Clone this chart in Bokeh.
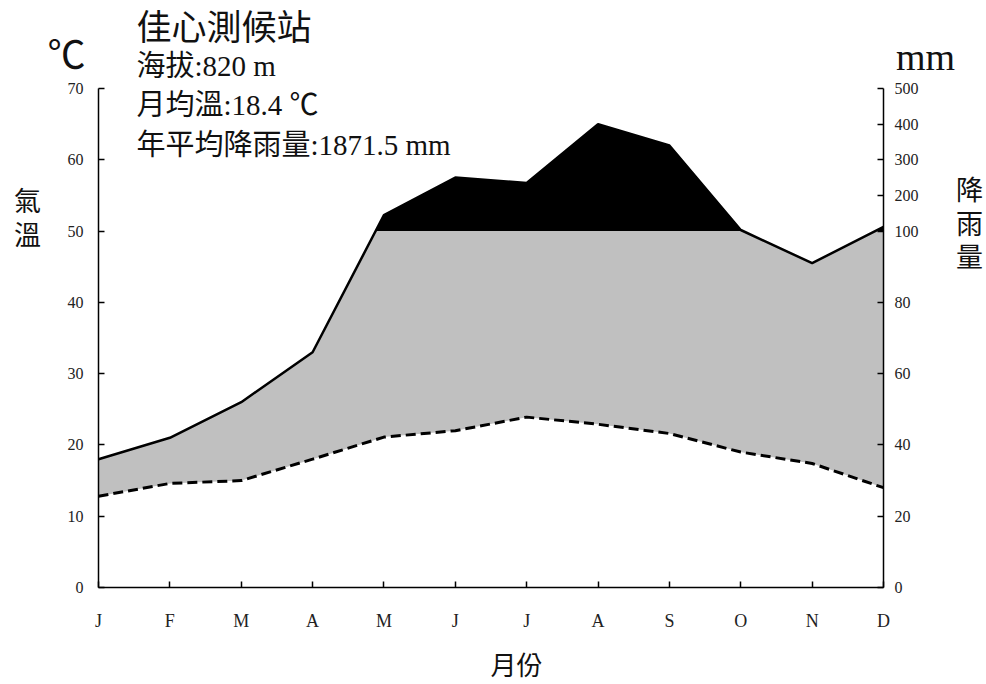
import numpy as np
from bokeh.plotting import figure
from bokeh.models import Range1d, LinearAxis, FixedTicker, Label
from bokeh.embed import file_html
from bokeh.resources import INLINE

# ---------------- data ----------------
months = ["J", "F", "M", "A", "M", "J", "J", "A", "S", "O", "N", "D"]
temp_c = [12.8, 14.6, 15.0, 18.0, 21.1, 22.0, 23.9, 22.9, 21.6, 19.0, 17.4, 14.0]
precip_mm = [36, 42, 52, 66, 145, 250, 235, 400, 340, 103, 91, 112]
temp_ticks = [0, 10, 20, 30, 40, 50, 60, 70]
precip_ticks_mm = [0, 20, 40, 60, 80, 100, 200, 300, 400, 500]
station = "佳心測候站"
info_lines = ["海拔:820 m", "月均溫:18.4 ℃", "年平均降雨量:1871.5 mm"]
left_title = "氣溫"
right_title = "降雨量"
x_title = "月份"


def p_scale(p):
    # Walter-Lieth: 20 mm = 10 degC up to 100 mm, above 100 mm: 100 mm = 5 degC
    return p / 2.0 if p <= 100 else 50.0 + (p - 100.0) / 20.0


idx = np.arange(len(months), dtype=float)
ps = np.array([p_scale(v) for v in precip_mm])
tc = np.array(temp_c, dtype=float)

# dense x with crossing points of the 100 mm level
xs = []
for i in range(len(idx) - 1):
    xs.append(idx[i])
    a, b = ps[i] - 50.0, ps[i + 1] - 50.0
    if a * b < 0:
        xs.append(idx[i] + (50.0 - ps[i]) / (ps[i + 1] - ps[i]))
xs.append(idx[-1])
xs = np.array(xs)
ps_d = np.interp(xs, idx, ps)
tc_d = np.interp(xs, idx, tc)

# ---------------- layout ----------------
W, H = 986, 684
FX0, FX1 = 98, 883      # pixel x of first / last month
FY0, FY1 = 587, 88      # pixel y of 0 / 70 degC
sx = (FX1 - FX0) / 11.0
sy = (FY0 - FY1) / 70.0
x_start, x_end = -FX0 / sx, 11 + (W - FX1) / sx
y_start, y_end = -(H - FY0) / sy, 70 + FY1 / sy


def X(px):
    return (px - FX0) / sx


def Y(py):
    return (FY0 - py) / sy


SERIF = "'Liberation Serif', 'Noto Sans CJK TC'"
CJK = "'Noto Sans CJK TC'"

p = figure(width=W, height=H, x_range=Range1d(x_start, x_end), y_range=Range1d(y_start, y_end),
           output_backend="svg", toolbar_location=None, x_axis_type=None, y_axis_type=None,
           min_border_left=0, min_border_right=0, min_border_top=0, min_border_bottom=0)
p.outline_line_color = None
p.background_fill_color = "white"
p.border_fill_color = "white"

# humid (gray) and perhumid (black) areas
p.varea(x=xs, y1=tc_d, y2=np.minimum(ps_d, 50.0), fill_color="#c0c0c0")
p.varea(x=xs, y1=np.full_like(xs, 50.0), y2=np.maximum(ps_d, 50.0), fill_color="black")

p.line(idx, ps, line_color="black", line_width=2.5)
p.line(idx, tc, line_color="black", line_width=3, line_dash="10 5")


def style_axis(ax, standoff, size="16px"):
    ax.axis_line_color = "black"
    ax.axis_line_width = 1.5
    ax.major_tick_in = 6
    ax.major_tick_out = 0
    ax.major_tick_line_width = 1.5
    ax.minor_tick_line_color = None
    ax.major_label_text_font = SERIF
    ax.major_label_text_font_size = size
    ax.major_label_text_color = "#222222"
    ax.major_label_standoff = standoff


xa = LinearAxis(fixed_location=0, bounds=(0, 11), ticker=FixedTicker(ticks=list(idx)),
                major_label_overrides={int(i): m for i, m in zip(idx, months)})
style_axis(xa, 23, "18px")
p.add_layout(xa, "below")

ya = LinearAxis(fixed_location=0, bounds=(0, 70), ticker=FixedTicker(ticks=temp_ticks))
style_axis(ya, 15)
p.add_layout(ya, "left")

r_pos = [p_scale(v) for v in precip_ticks_mm]
r_pos = [int(v) if float(v).is_integer() else v for v in r_pos]
ra = LinearAxis(fixed_location=11, bounds=(0, 70), ticker=FixedTicker(ticks=r_pos),
                major_label_overrides={pos: str(mm) for pos, mm in zip(r_pos, precip_ticks_mm)})
style_axis(ra, 11)
p.add_layout(ra, "right")


def lab(px, py, text, size, font=SERIF, align="left", baseline="middle"):
    p.add_layout(Label(x=X(px), y=Y(py), text=text, text_font=font, text_font_size=size,
                       text_align=align, text_baseline=baseline, text_color="#111111"))


lab(136, 24, station, "35px", font=CJK)
for k, line in enumerate(info_lines):
    lab(136, 65 + k * 39.5, line, "29px")

lab(66, 51, "℃", "38px", font=CJK, align="center")
lab(925, 56, "mm", "38px", align="center")

for k, ch in enumerate(left_title):
    lab(27, 199 + k * 34, ch, "27px", font=CJK, align="center")
for k, ch in enumerate(right_title):
    lab(969, 188 + k * 33.5, ch, "27px", font=CJK, align="center")

lab(516, 663, x_title, "26px", font=CJK, align="center")

open("out.html", "w").write(file_html(p, INLINE))
